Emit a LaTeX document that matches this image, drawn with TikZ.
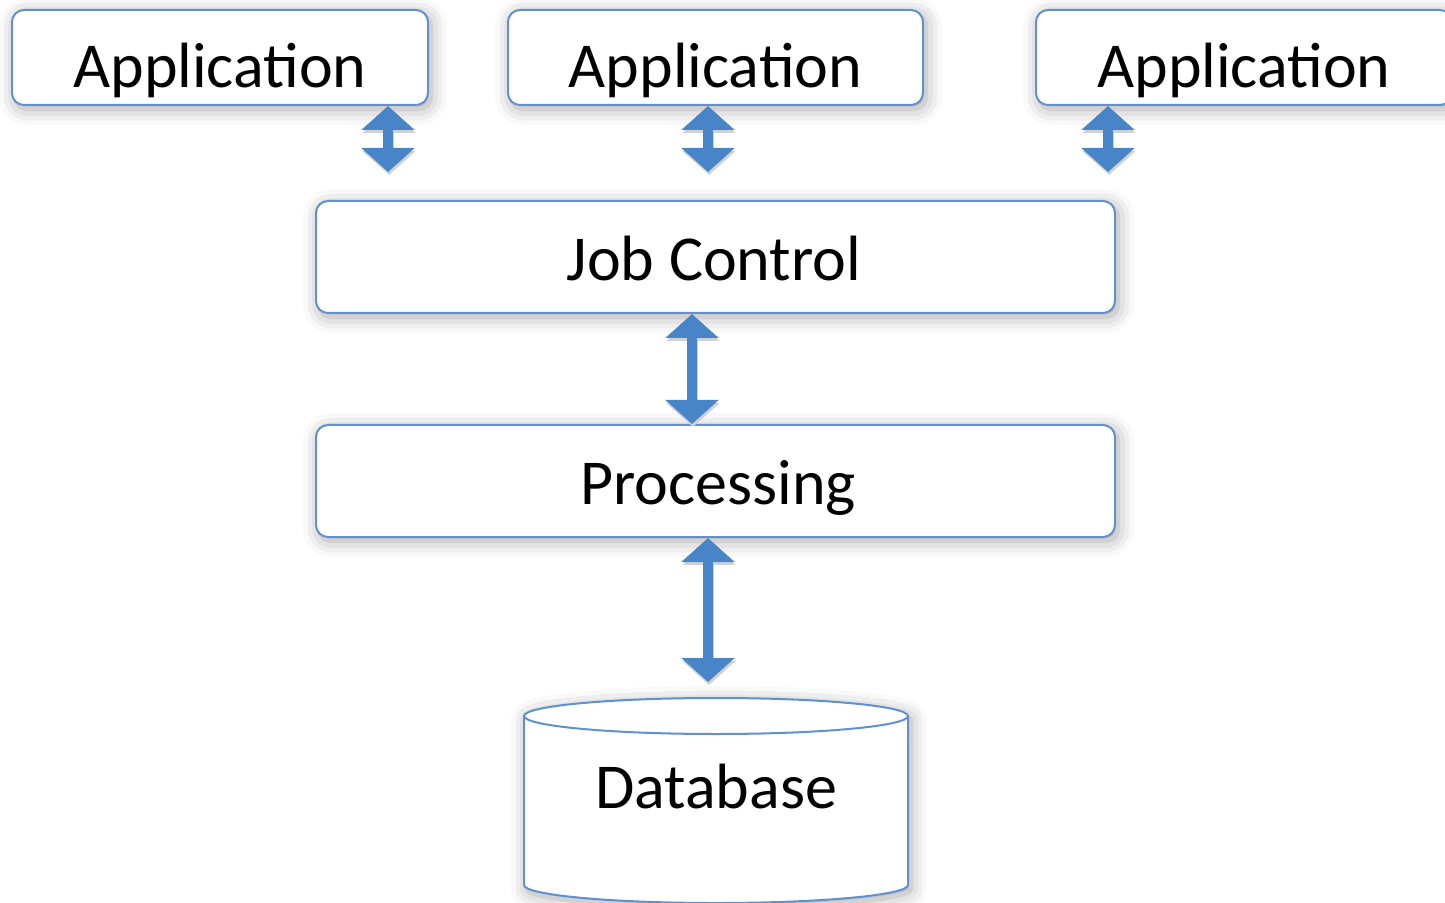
\documentclass[tikz,border=0pt]{standalone}
\usepackage{fontspec}
\setmainfont{Carlito}
\usetikzlibrary{arrows.meta,shadows.blur}
\definecolor{bordc}{RGB}{95,145,208}
\definecolor{arrc}{RGB}{72,132,200}
\begin{document}
\begin{tikzpicture}[x=0.5pt,y=-0.5pt,
  softshadow/.style={blur shadow={shadow xshift=1.5pt, shadow yshift=-2pt, shadow blur radius=8pt, shadow opacity=35}},
  box/.style={draw=bordc, line width=1pt, rounded corners=6pt, fill=white, inner sep=0pt, softshadow},
  lbl/.style={font=\fontsize{32pt}{36pt}\selectfont, anchor=base, inner sep=0pt},
  dbl/.style={draw=arrc, line width=5pt, {Triangle[width=26pt,length=12pt]}-{Triangle[width=26pt,length=12pt]}},
  dblsh/.style={draw=black!18, line width=5pt, {Triangle[width=26pt,length=12pt]}-{Triangle[width=26pt,length=12pt]}, transform canvas={xshift=0.5pt,yshift=-1.5pt}}]
\useasboundingbox (0,0) rectangle (1445,903);
% boxes
\node[box, minimum width=208pt, minimum height=47.5pt] (app1) at (220,57.5) {};
\node[box, minimum width=207.5pt, minimum height=47.5pt] (app2) at (715.5,57.5) {};
\node[box, minimum width=208pt, minimum height=47.5pt] (app3) at (1244,57.5) {};
\node[box, minimum width=399.5pt, minimum height=56pt] (jc) at (715.5,257) {};
\node[box, minimum width=399.5pt, minimum height=56pt] (proc) at (715.5,481) {};
% database cylinder
\node[inner sep=0pt, minimum width=192pt, minimum height=102.5pt] (db) at (716,800.5) {};
\path[draw=bordc, line width=1pt, fill=white, softshadow]
  (524,716) -- (524,885) arc[start angle=180, end angle=360, x radius=96pt, y radius=9pt]
  -- (908,716) arc[start angle=0, end angle=180, x radius=96pt, y radius=9pt] -- cycle;
\draw[bordc, line width=1pt] (524,716) arc[start angle=180, end angle=360, x radius=96pt, y radius=9pt];
% labels
\node[lbl] (t1) at (220,88) {Application};
\node[lbl] (t2) at (715.5,88) {Application};
\node[lbl] (t3) at (1244,88) {Application};
\node[lbl] (t4) at (714,281) {Job Control};
\node[lbl] (t5) at (718,504) {Processing};
\node[lbl] (t6) at (716,808) {Database};
% arrows
\coordinate (a1) at (388,172);
\coordinate (a2) at (708,172);
\coordinate (a3) at (1108,172);
\coordinate (c4) at (692,0);
\coordinate (c5) at (708,682);
\draw[dblsh] (app1.south -| a1) -- (a1);
\draw[dbl] (app1.south -| a1) -- (a1);
\draw[dblsh] (app2.south -| a2) -- (a2);
\draw[dbl] (app2.south -| a2) -- (a2);
\draw[dblsh] (app3.south -| a3) -- (a3);
\draw[dbl] (app3.south -| a3) -- (a3);
\draw[dblsh] (jc.south -| c4) -- (proc.north -| c4);
\draw[dbl] (jc.south -| c4) -- (proc.north -| c4);
\draw[dblsh] (proc.south -| c5) -- (c5);
\draw[dbl] (proc.south -| c5) -- (c5);
\end{tikzpicture}
\end{document}
